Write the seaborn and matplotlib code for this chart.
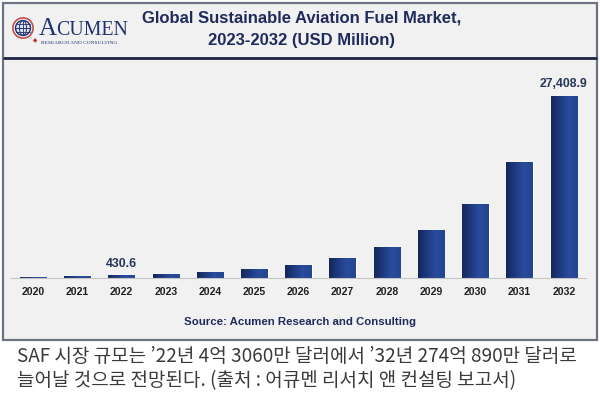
import numpy as np
import pandas as pd
import matplotlib
matplotlib.use("Agg")
import matplotlib.pyplot as plt
import seaborn as sns
from matplotlib.colors import LinearSegmentedColormap
from matplotlib.patches import Rectangle, Circle, Ellipse

# data (USD million)
YEARS = ["2020", "2021", "2022", "2023", "2024", "2025", "2026",
         "2027", "2028", "2029", "2030", "2031", "2032"]
VALUES = [200, 290, 430.6, 660, 960, 1400, 2050,
          3100, 4700, 7200, 11100, 17400, 27408.9]
LABELED = {"2022": "430.6", "2032": "27,408.9"}

TITLE_1 = "Global Sustainable Aviation Fuel Market,"
TITLE_2 = "2023-2032 (USD Million)"
SOURCE = "Source: Acumen Research and Consulting"
CAPTION_1 = "SAF 시장 규모는 ’22년 4억 3060만 달러에서 ’32년 274억 890만 달러로"
CAPTION_2 = "늘어날 것으로 전망된다. (출처 : 어큐멘 리서치 앤 컨설팅 보고서)"

NAVY = "#1f2b5c"
BG = "#f1f1f1"
W, H = 600, 393


def fx(px):
    return px / W


def fy(py):
    return 1 - py / H


sns.set_theme(style="white")
plt.rcParams["font.family"] = ["Liberation Sans", "DejaVu Sans"]

fig = plt.figure(figsize=(6, 3.93), dpi=100, facecolor="white")

# outer frame and header separator (behind the axes)
fig.patches.append(Rectangle((fx(3), fy(340)), fx(594), 337 / H,
                             transform=fig.transFigure, facecolor=BG,
                             edgecolor="#6d7382", lw=1.6, zorder=-10))
fig.lines.append(plt.Line2D([fx(4), fx(596)], [fy(58), fy(58)],
                            transform=fig.transFigure, color="#1c2545", lw=2,
                            zorder=-5))

# main bar chart
ax = fig.add_axes([fx(11), fy(278.3), fx(575), (278.3 - 62) / H])
ax.set_facecolor("none")
df = pd.DataFrame({"year": YEARS, "value": VALUES})
sns.barplot(data=df, x="year", y="value", ax=ax, width=0.6,
            color="#22408a", saturation=1)

# horizontal shading on each bar, like the original
grad = LinearSegmentedColormap.from_list(
    "bar", ["#15275a", "#1f3a80", "#2a4c9e", "#24448f"])
g = np.linspace(0, 1, 64).reshape(1, -1)
for p in ax.patches:
    x0, w, h = p.get_x(), p.get_width(), p.get_height()
    im = ax.imshow(g, cmap=grad, aspect="auto", extent=[x0, x0 + w, 0, h],
                   zorder=p.get_zorder() + 0.1)
    im.set_clip_path(p)

ax.set_xlim(-0.5, len(YEARS) - 0.5)
ax.set_ylim(0, 32500)

for i, (yr, v) in enumerate(zip(YEARS, VALUES)):
    if yr in LABELED:
        ax.annotate(LABELED[yr], (i, v), xytext=(0, 4), textcoords="offset points",
                    ha="center", va="bottom", fontsize=8.8, fontweight="bold",
                    color="#263656")

for s in ["top", "right", "left"]:
    ax.spines[s].set_visible(False)
ax.spines["bottom"].set_color("#c4c4c4")
ax.spines["bottom"].set_linewidth(0.8)
ax.set_yticks([])
ax.set_xlabel("")
ax.set_ylabel("")
ax.set_xticks(np.arange(len(YEARS)) + 0.5, minor=True)
ax.tick_params(axis="x", which="major", length=0, pad=6, labelsize=7.6,
               labelcolor="#222222")
ax.tick_params(axis="x", which="minor", length=2, color="#c4c4c4", width=0.6)
for t in ax.get_xticklabels():
    t.set_fontweight("bold")

# header title
fig.text(fx(302), fy(18), TITLE_1, ha="center", va="center", fontsize=12,
         fontweight="bold", color=NAVY)
fig.text(fx(302), fy(40), TITLE_2, ha="center", va="center", fontsize=12,
         fontweight="bold", color=NAVY)

# logo
lax = fig.add_axes([fx(12), fy(39), fx(22), 22 / H])
lax.set_xlim(-1.25, 1.25)
lax.set_ylim(-1.25, 1.25)
lax.set_aspect("equal")
lax.axis("off")
lax.add_patch(Circle((0, 0), 1.15, facecolor="none", edgecolor="#c0504d", lw=1.2))
lax.add_patch(Circle((0, 0), 0.85, facecolor="#dfe4f0", edgecolor="#1f3370", lw=1))
lax.add_patch(Ellipse((0, 0), 0.8, 1.7, facecolor="none", edgecolor="#1f3370", lw=0.7))
lax.plot([-0.85, 0.85], [0, 0], color="#1f3370", lw=0.7)
lax.plot([-0.75, 0.75], [0.4, 0.4], color="#1f3370", lw=0.6)
lax.plot([-0.75, 0.75], [-0.4, -0.4], color="#1f3370", lw=0.6)
lax.plot([0, 0], [-0.85, 0.85], color="#1f3370", lw=0.6)
fig.text(fx(39), fy(35), "A", fontsize=18, family="Liberation Serif",
         color="#1f3370", va="baseline")
fig.text(fx(56), fy(35), "CUMEN", fontsize=14.3, family="Liberation Serif",
         color="#1f3370", va="baseline")
fig.text(fx(41), fy(43), "RESEARCH AND CONSULTING", fontsize=3.9,
         family="Liberation Serif", color="#1f3370", va="center")
fig.text(fx(35), fy(41), "◆", fontsize=4, color="#d62020", ha="center", va="center",
         family="DejaVu Sans")

# source
fig.text(fx(300), fy(322), SOURCE, ha="center", va="center", fontsize=8.2,
         fontweight="bold", color=NAVY)

# Korean caption
for txt, yy in [(CAPTION_1, 356), (CAPTION_2, 381)]:
    fig.text(fx(17), fy(yy), txt, ha="left", va="center", fontsize=13.7,
             family=["Noto Sans CJK KR", "DejaVu Sans"], fontweight="light",
             color="#3a3a3a")

fig.savefig("out.png", dpi=100, facecolor="white")
